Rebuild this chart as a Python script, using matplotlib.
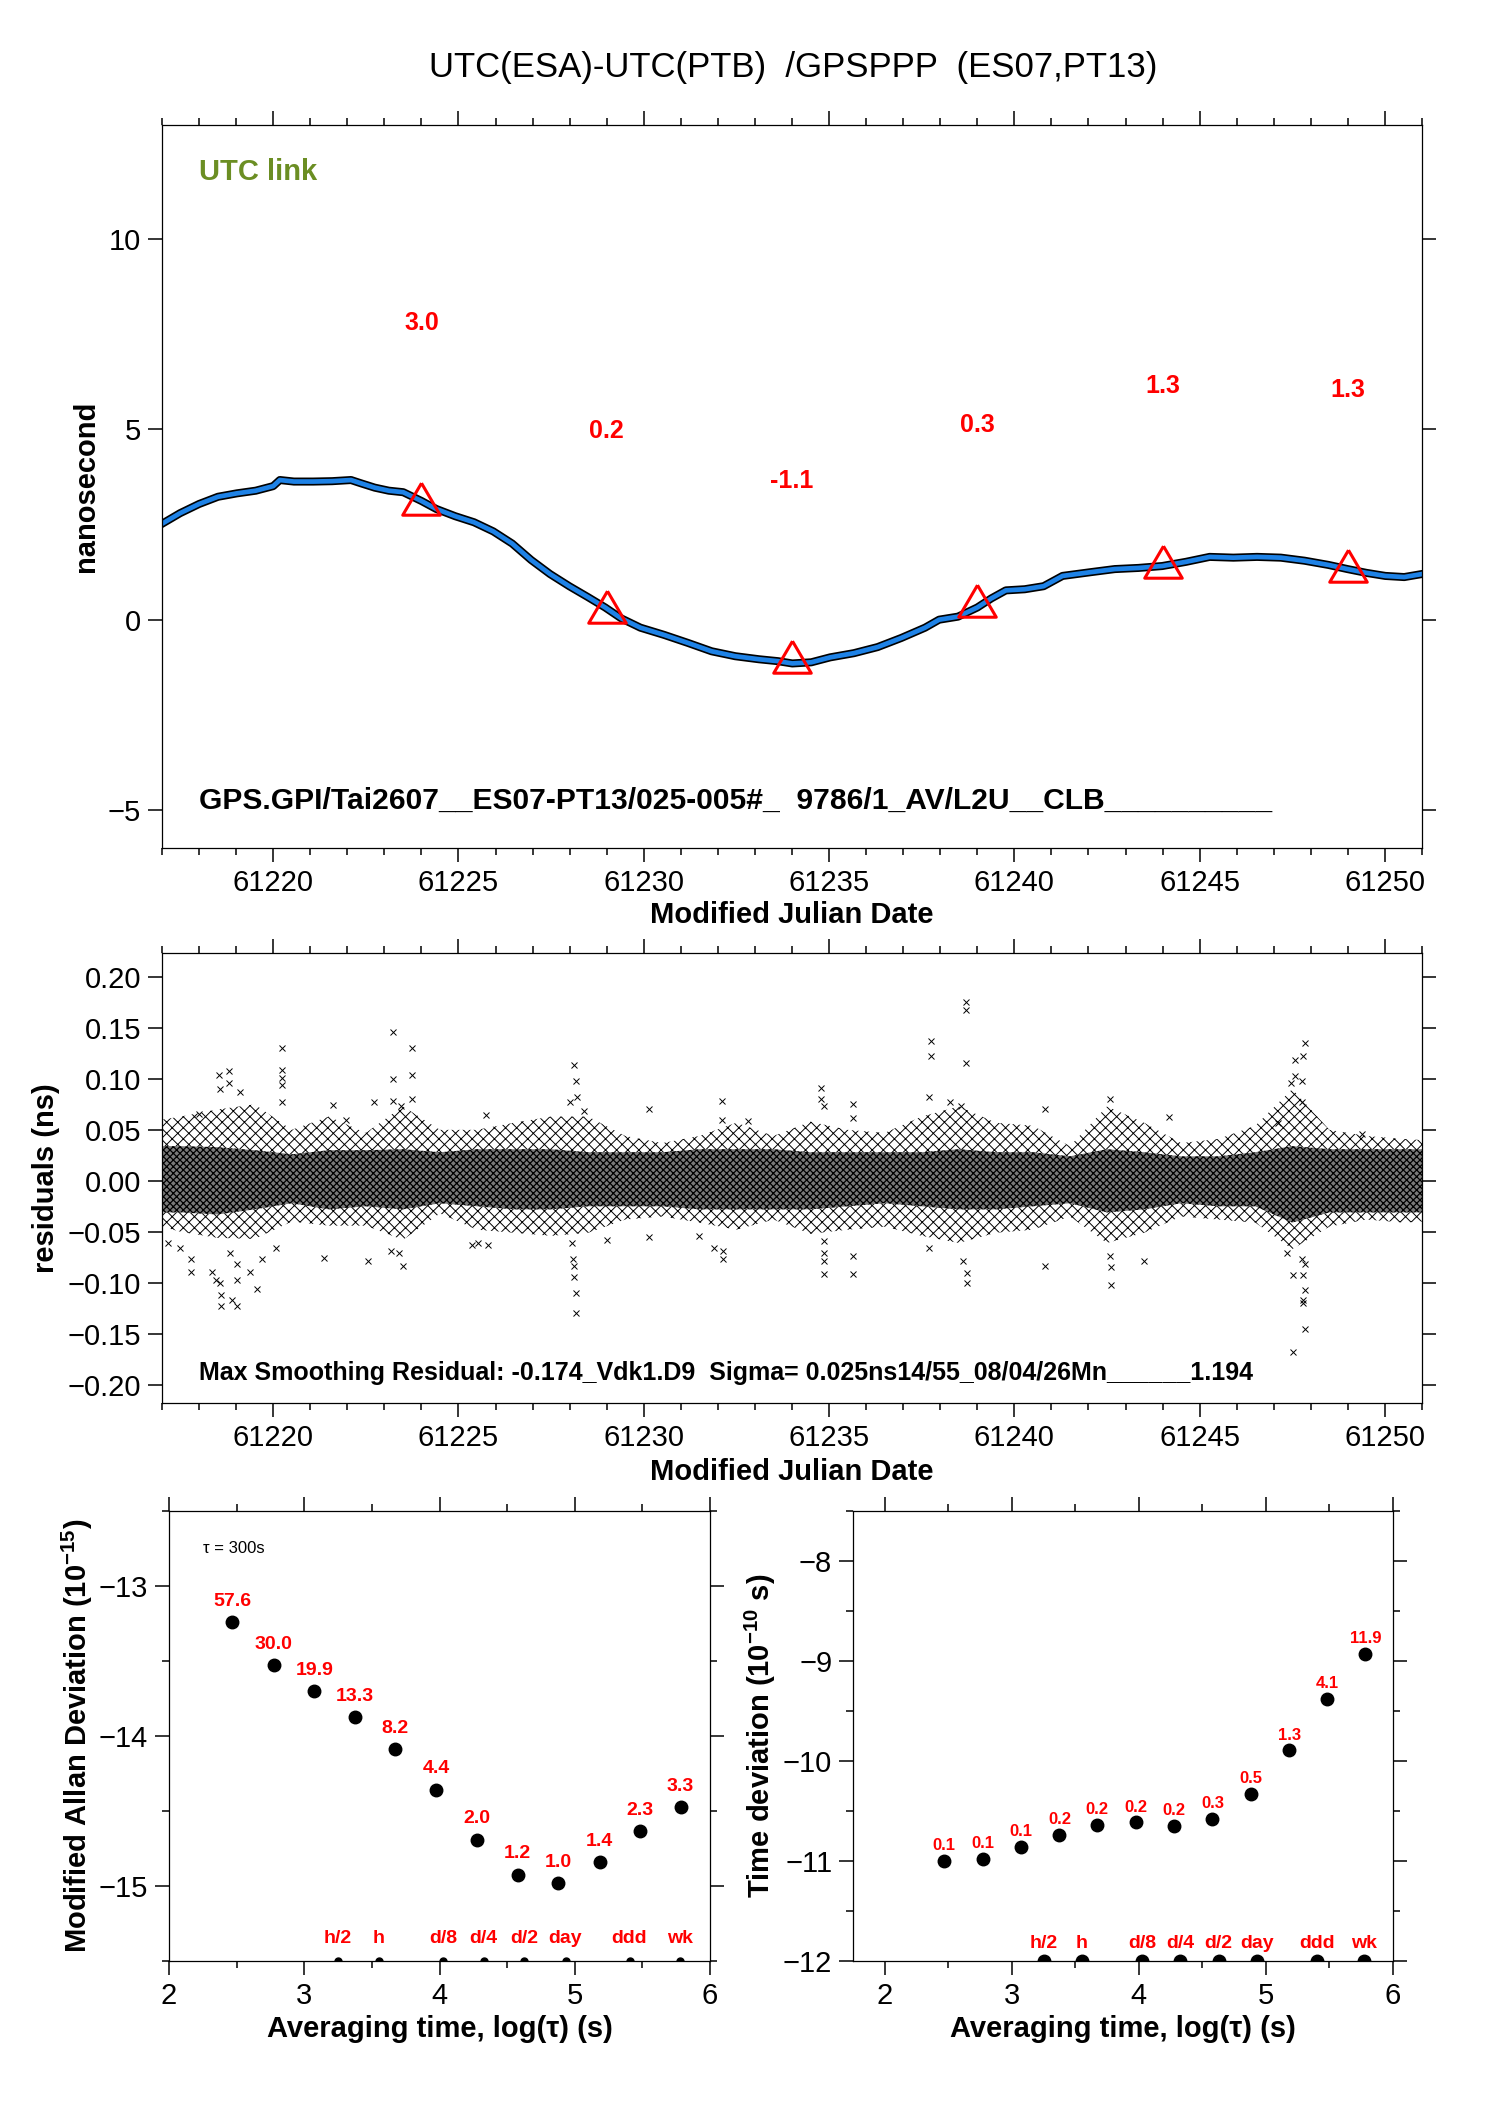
import matplotlib
matplotlib.use("Agg")
import matplotlib.pyplot as plt
from matplotlib.ticker import MultipleLocator, NullLocator, FuncFormatter

plt.rcParams["font.family"] = ["Liberation Sans", "DejaVu Sans"]
plt.rcParams["mathtext.default"] = "regular"

# ---------------- data ----------------
# top panel: smoothed UTC(ESA)-UTC(PTB) curve (ns)
curve_mjd = [61217.00, 61217.49, 61218.00, 61218.51, 61219.02, 61219.53, 61220.00, 61220.18,
             61220.56, 61221.08, 61221.59, 61222.10, 61222.35, 61222.74, 61223.12, 61223.51,
             61224.00, 61224.40, 61224.91, 61225.42, 61225.94, 61226.45, 61226.96, 61227.47,
             61227.99, 61228.50, 61228.96, 61229.40, 61229.91, 61230.55, 61231.19, 61231.83,
             61232.47, 61233.11, 61233.62, 61234.01, 61234.52, 61235.03, 61235.67, 61236.31,
             61236.95, 61237.59, 61237.97, 61238.48, 61239.00, 61239.38, 61239.77, 61240.28,
             61240.79, 61241.30, 61242.07, 61242.71, 61243.35, 61243.99, 61244.63, 61245.27,
             61245.91, 61246.55, 61247.19, 61247.83, 61248.47, 61248.99, 61249.50, 61250.01,
             61250.52, 61251.00]
curve_ns = [2.52, 2.80, 3.04, 3.23, 3.32, 3.39, 3.51, 3.67,
            3.63, 3.63, 3.64, 3.67, 3.59, 3.47, 3.39, 3.35,
            3.12, 2.91, 2.72, 2.56, 2.32, 2.00, 1.57, 1.20,
            0.88, 0.59, 0.32, 0.03, -0.21, -0.40, -0.61, -0.83,
            -0.96, -1.04, -1.09, -1.15, -1.12, -0.99, -0.88, -0.72,
            -0.48, -0.21, 0.00, 0.08, 0.32, 0.56, 0.77, 0.80,
            0.88, 1.15, 1.25, 1.33, 1.36, 1.41, 1.52, 1.65,
            1.63, 1.65, 1.63, 1.55, 1.44, 1.33, 1.23, 1.15,
            1.12, 1.20]

# 5-day marks (red triangles) and their labels
mark5_mjd = [61224, 61229, 61234, 61239, 61244, 61249]
mark5_ns = [3.04, 0.20, -1.11, 0.36, 1.38, 1.28]
mark5_text = ["3.0", "0.2", "-1.1", "0.3", "1.3", "1.3"]

# residual panel: envelope of the dense scatter (ns)
res_mjd = [61217.0, 61217.5, 61218.5, 61219.5, 61220.5, 61221.5, 61222.5, 61223.5, 61224.5,
           61225.5, 61226.5, 61227.5, 61228.5, 61229.5, 61230.5, 61231.5, 61232.5, 61233.5,
           61234.5, 61235.5, 61236.5, 61237.5, 61238.5, 61239.5, 61240.5, 61241.5, 61242.5,
           61243.5, 61244.5, 61245.5, 61246.5, 61247.5, 61248.5, 61249.5, 61250.5, 61251.0]
res_outer_hi = [0.060, 0.063, 0.070, 0.075, 0.050, 0.063, 0.047, 0.073, 0.050,
                0.050, 0.057, 0.063, 0.063, 0.044, 0.037, 0.044, 0.057, 0.044,
                0.058, 0.050, 0.047, 0.063, 0.073, 0.057, 0.054, 0.034, 0.073,
                0.057, 0.037, 0.041, 0.054, 0.090, 0.050, 0.044, 0.041, 0.040]
res_outer_lo = [-0.045, -0.050, -0.056, -0.057, -0.040, -0.044, -0.044, -0.058, -0.032,
                -0.048, -0.051, -0.054, -0.051, -0.038, -0.035, -0.041, -0.048, -0.038,
                -0.052, -0.048, -0.045, -0.054, -0.061, -0.051, -0.048, -0.035, -0.061,
                -0.051, -0.035, -0.038, -0.041, -0.067, -0.045, -0.038, -0.041, -0.040]
res_core_hi = [0.034, 0.034, 0.033, 0.030, 0.026, 0.030, 0.030, 0.031, 0.028,
               0.031, 0.031, 0.031, 0.028, 0.028, 0.028, 0.031, 0.031, 0.031,
               0.028, 0.028, 0.028, 0.028, 0.031, 0.028, 0.028, 0.024, 0.031,
               0.028, 0.024, 0.024, 0.028, 0.034, 0.031, 0.031, 0.031, 0.031]
res_core_lo = [-0.031, -0.031, -0.033, -0.028, -0.022, -0.028, -0.025, -0.028, -0.022,
               -0.025, -0.028, -0.028, -0.025, -0.025, -0.025, -0.028, -0.028, -0.028,
               -0.028, -0.025, -0.022, -0.025, -0.028, -0.028, -0.025, -0.022, -0.031,
               -0.028, -0.022, -0.025, -0.025, -0.041, -0.031, -0.031, -0.031, -0.031]

# isolated residual points outside the band
out_mjd = [61217.16, 61217.49, 61217.78, 61217.78, 61218.00, 61218.54, 61218.81, 61218.81,
           61219.10, 61218.56, 61218.36, 61218.45, 61218.56, 61218.58, 61218.58, 61218.88,
           61219.03, 61219.03, 61219.03, 61218.84, 61219.37, 61219.55, 61219.70, 61220.25,
           61220.25, 61220.25, 61220.25, 61220.25, 61220.08, 61221.37, 61221.62, 61221.96,
           61222.55, 61222.72, 61223.22, 61223.22, 61223.22, 61223.75, 61223.75, 61223.75,
           61223.50, 61223.17, 61223.39, 61223.45, 61225.36, 61225.53, 61225.81, 61225.75,
           61228.11, 61228.17, 61228.20, 61228.00, 61228.06, 61228.09, 61228.13, 61228.13,
           61228.16, 61228.16, 61228.40, 61229.02, 61230.15, 61230.15, 61231.48, 61231.90,
           61232.13, 61232.15, 61232.10, 61232.10, 61232.80,
           61234.78, 61234.78, 61234.86, 61234.86, 61234.86, 61234.86, 61234.86, 61235.64,
           61235.64, 61235.64, 61235.64, 61237.74, 61237.74, 61237.70, 61237.70, 61238.70,
           61238.70, 61238.70, 61238.61, 61238.72, 61238.72, 61238.55, 61238.25, 61240.82,
           61240.82, 61242.58, 61242.60, 61242.60, 61242.58, 61243.49, 61244.17, 61247.46,
           61247.58, 61247.83, 61247.80, 61247.58, 61247.75, 61247.75, 61247.52, 61247.78,
           61247.83, 61247.78, 61247.78, 61247.83, 61247.52, 61247.35, 61247.75, 61247.83,
           61247.12, 61249.39]
out_ns = [-0.061, -0.066, -0.077, -0.089, 0.066, 0.104, 0.108, 0.096,
          0.087, 0.090, -0.089, -0.097, -0.100, -0.112, -0.123, -0.117,
          -0.123, -0.097, -0.082, -0.071, -0.089, -0.106, -0.077, 0.130,
          0.109, 0.101, 0.094, 0.077, -0.066, -0.076, 0.074, 0.060,
          -0.079, 0.077, 0.146, 0.100, 0.078, 0.130, 0.104, 0.080,
          -0.084, -0.069, -0.071, 0.073, -0.063, -0.061, -0.063, 0.065,
          0.114, 0.098, 0.082, 0.077, -0.061, -0.077, -0.084, -0.094,
          -0.110, -0.130, 0.068, -0.058, 0.070, -0.055, -0.054, -0.066,
          -0.069, -0.077, 0.078, 0.060, 0.059,
          0.091, 0.080, 0.073, -0.059, -0.071, -0.079, -0.091, 0.075,
          0.062, -0.074, -0.091, 0.137, 0.122, 0.082, -0.066, 0.175,
          0.168, 0.116, -0.079, -0.090, -0.100, 0.073, 0.077, -0.084,
          0.070, 0.080, -0.085, -0.102, -0.074, -0.079, 0.063, 0.096,
          0.119, 0.135, 0.122, 0.103, 0.098, 0.077, -0.092, -0.092,
          -0.107, -0.117, -0.120, -0.145, -0.168, -0.071, -0.077, -0.082,
          0.057, 0.046]

# stability panels
log_tau = [2.469, 2.774, 3.074, 3.375, 3.673, 3.977, 4.278, 4.579, 4.879, 5.183, 5.484, 5.782]
log_mdev = [-13.240, -13.526, -13.702, -13.876, -14.086, -14.357, -14.690, -14.924,
            -14.981, -14.843, -14.636, -14.474]
mdev_text = ["57.6", "30.0", "19.9", "13.3", "8.2", "4.4", "2.0", "1.2", "1.0", "1.4", "2.3", "3.3"]
log_tdev = [-11.000, -10.982, -10.857, -10.736, -10.639, -10.614, -10.646, -10.575,
            -10.332, -9.893, -9.382, -8.925]
tdev_text = ["0.1", "0.1", "0.1", "0.2", "0.2", "0.2", "0.2", "0.3", "0.5", "1.3", "4.1", "11.9"]

span_log = [3.25, 3.55, 4.026, 4.327, 4.628, 4.932, 5.405, 5.775]
span_text = ["h/2", "h", "d/8", "d/4", "d/2", "day", "ddd", "wk"]

TITLE = "UTC(ESA)-UTC(PTB)  /GPSPPP  (ES07,PT13)"
LINK_INFO = "GPS.GPI/Tai2607__ES07-PT13/025-005#_  9786/1_AV/L2U__CLB__________"
RES_INFO = "Max Smoothing Residual: -0.174_Vdk1.D9  Sigma= 0.025ns14/55_08/04/26Mn______1.194"

# ---------------- figure ----------------
W, H = 1488, 2105
fig = plt.figure(figsize=(W / 100, H / 100), dpi=100)


def box(x0, y0, x1, y1):
    return [x0 / W, 1 - y1 / H, (x1 - x0) / W, (y1 - y0) / H]


BLUE = "#1e82e6"
RED = "#ff0000"
TICK_FS = 21
LABEL_FS = 21


def style_axes(ax):
    for sp in ax.spines.values():
        sp.set_linewidth(0.9)
    ax.tick_params(which="both", direction="out", top=True, right=True,
                   labelsize=TICK_FS, width=1.1, pad=5)
    ax.tick_params(which="major", length=10)
    ax.tick_params(which="minor", length=5)


def minus_fmt(fmt):
    def f(v, pos):
        if abs(v) < 1e-9:
            v = 0.0
        return fmt.format(v).replace("-", "\u2212")
    return FuncFormatter(f)


fig.text(793 / W, 1 - 68 / H, TITLE, ha="center", va="center", fontsize=25)

# ---- top panel ----
ax1 = fig.add_axes(box(162, 125, 1422, 848))
ax1.plot(curve_mjd, curve_ns, color="black", lw=5.8, solid_joinstyle="round")
ax1.plot(curve_mjd, curve_ns, color=BLUE, lw=3.4, solid_joinstyle="round")
tri = [(0, 21.3), (-18.75, -10.7), (18.75, -10.7), (0, 21.3)]
ax1.plot(mark5_mjd, mark5_ns, linestyle="none", marker=tri, ms=30.7,
         mfc="none", mec=RED, mew=2.2)
for m, v, t in zip(mark5_mjd, mark5_ns, mark5_text):
    ax1.text(m, v + 4.75, t, color=RED, fontsize=18, fontweight="bold",
             ha="center", va="center")
ax1.text(61218.0, 11.77, "UTC link", color="#6b8e23", fontsize=21,
         fontweight="bold", ha="left", va="center")
ax1.text(61218.0, -4.77, LINK_INFO, color="black", fontsize=21.6,
         fontweight="bold", ha="left", va="center")
ax1.set_xlim(61217, 61251)
ax1.set_ylim(-6, 13)
ax1.xaxis.set_major_locator(MultipleLocator(5))
ax1.xaxis.set_minor_locator(MultipleLocator(1))
ax1.xaxis.set_major_formatter(FuncFormatter(lambda v, p: "%d" % round(v)))
ax1.yaxis.set_major_locator(MultipleLocator(5))
ax1.yaxis.set_minor_locator(NullLocator())
ax1.yaxis.set_major_formatter(minus_fmt("{:.0f}"))
style_axes(ax1)
ax1.set_xlabel("Modified Julian Date", fontsize=LABEL_FS, fontweight="bold")
ax1.set_ylabel("nanosecond", fontsize=LABEL_FS, fontweight="bold")
ax1.xaxis.set_label_coords(0.5, -0.073)
ax1.yaxis.set_label_coords(-0.049, 0.5)

# ---- residual panel ----
ax2 = fig.add_axes(box(162, 953, 1422, 1403))
plt.rcParams["hatch.linewidth"] = 0.7
ax2.fill_between(res_mjd, res_outer_lo, res_outer_hi, facecolor="white",
                 edgecolor="black", hatch="xxx", linewidth=0)
plt.rcParams["hatch.linewidth"] = 0.9
ax2.fill_between(res_mjd, res_core_lo, res_core_hi, facecolor="#7a7a7a",
                 edgecolor="black", hatch="xxxxx", linewidth=0)
ax2.plot(out_mjd, out_ns, "x", color="black", ms=4, mew=0.7)
ax2.text(61218.0, -0.189, RES_INFO, color="black", fontsize=18,
         fontweight="bold", ha="left", va="center")
ax2.set_xlim(61217, 61251)
ax2.set_ylim(-0.218, 0.2235)
ax2.xaxis.set_major_locator(MultipleLocator(5))
ax2.xaxis.set_minor_locator(MultipleLocator(1))
ax2.xaxis.set_major_formatter(FuncFormatter(lambda v, p: "%d" % round(v)))
ax2.yaxis.set_major_locator(MultipleLocator(0.05))
ax2.yaxis.set_minor_locator(NullLocator())
ax2.yaxis.set_major_formatter(minus_fmt("{:.2f}"))
style_axes(ax2)
ax2.set_xlabel("Modified Julian Date", fontsize=LABEL_FS, fontweight="bold")
ax2.set_ylabel("residuals (ns)", fontsize=LABEL_FS, fontweight="bold")
ax2.xaxis.set_label_coords(0.5, -0.123)
ax2.yaxis.set_label_coords(-0.081, 0.5)

# ---- modified Allan deviation ----
ax3 = fig.add_axes(box(169, 1511, 710, 1961))
ax3.set_xlim(2, 6)
ax3.set_ylim(-15.5, -12.5)
ax3.plot(log_tau, log_mdev, "o", color="black", ms=9)
for x, y, t in zip(log_tau, log_mdev, mdev_text):
    ax3.annotate(t, (x, y), xytext=(0, 15), textcoords="offset points",
                 ha="center", va="center", color=RED, fontsize=14, fontweight="bold")
y0 = ax3.get_ylim()[0]
ax3.plot(span_log, [y0] * len(span_log), "o", color="black", ms=5)
for x, t in zip(span_log, span_text):
    ax3.text(x, -15.35, t, color=RED, fontsize=14, fontweight="bold",
             ha="center", va="center")
ax3.text(2.25, -12.75, "\u03c4 = 300s", fontsize=12, ha="left", va="center")
ax3.xaxis.set_major_locator(MultipleLocator(1))
ax3.xaxis.set_minor_locator(MultipleLocator(0.5))
ax3.yaxis.set_major_locator(MultipleLocator(1))
ax3.yaxis.set_minor_locator(MultipleLocator(0.5))
style_axes(ax3)
ax3.set_xlabel("Averaging time, log(\u03c4) (s)", fontsize=LABEL_FS, fontweight="bold")
ax3.set_ylabel("Modified Allan Deviation (10$^{-15}$)", fontsize=LABEL_FS, fontweight="bold")
ax3.xaxis.set_label_coords(0.5, -0.121)
ax3.yaxis.set_label_coords(-0.137, 0.5)

# ---- time deviation ----
ax4 = fig.add_axes(box(853, 1511, 1393, 1961))
ax4.set_xlim(1.75, 6)
ax4.set_ylim(-12, -7.5)
ax4.plot(log_tau, log_tdev, "o", color="black", ms=9)
for x, y, t in zip(log_tau, log_tdev, tdev_text):
    ax4.annotate(t, (x, y), xytext=(0, 11), textcoords="offset points",
                 ha="center", va="center", color=RED, fontsize=12, fontweight="bold")
y0 = ax4.get_ylim()[0]
ax4.plot(span_log, [y0] * len(span_log), "o", color="black", ms=9)
for x, t in zip(span_log, span_text):
    ax4.text(x, -11.83, t, color=RED, fontsize=14, fontweight="bold",
             ha="center", va="center")
ax4.xaxis.set_major_locator(MultipleLocator(1))
ax4.xaxis.set_minor_locator(MultipleLocator(0.5))
ax4.yaxis.set_major_locator(MultipleLocator(1))
ax4.yaxis.set_minor_locator(MultipleLocator(0.5))
style_axes(ax4)
ax4.set_xlabel("Averaging time, log(\u03c4) (s)", fontsize=LABEL_FS, fontweight="bold")
ax4.set_ylabel("Time deviation (10$^{-10}$ s)", fontsize=LABEL_FS, fontweight="bold")
ax4.xaxis.set_label_coords(0.5, -0.121)
ax4.yaxis.set_label_coords(-0.139, 0.5)

fig.savefig("out.png", dpi=100)
